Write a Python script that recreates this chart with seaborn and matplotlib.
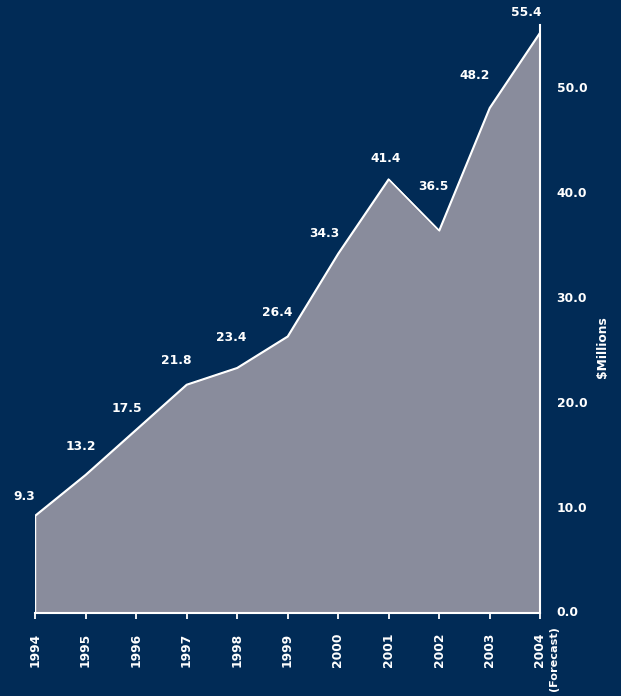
import matplotlib
matplotlib.use("Agg")
import matplotlib.pyplot as plt
import seaborn as sns
import pandas as pd

# Annual revenue, $ millions (2004 is a forecast)
years = [1994, 1995, 1996, 1997, 1998, 1999, 2000, 2001, 2002, 2003, 2004]
revenue = [9.3, 13.2, 17.5, 21.8, 23.4, 26.4, 34.3, 41.4, 36.5, 48.2, 55.4]
year_labels = ["1994", "1995", "1996", "1997", "1998", "1999", "2000",
               "2001", "2002", "2003", "2004"]
y_ticks = [0, 10, 20, 30, 40, 50]

df = pd.DataFrame({"year": years, "revenue": revenue})

NAVY = "#012b56"
FILL = "#898c9c"
FONT = "DejaVu Sans"
FS = 8.8

sns.set_theme(style="white")
plt.rcParams["font.family"] = [FONT]
plt.rcParams["font.weight"] = "bold"

fig = plt.figure(figsize=(6.21, 6.96), dpi=100, facecolor=NAVY)
ax = fig.add_axes([35 / 621, 83 / 696, 505 / 621, 588 / 696], facecolor=NAVY)

ax.fill_between(df["year"], df["revenue"], 0, color=FILL,
                edgecolor="white", linewidth=1.0, zorder=2)
sns.lineplot(data=df, x="year", y="revenue", color="white",
             linewidth=1.1, ax=ax, zorder=3)

# value labels placed just above each point (offsets in pixels)
label_dx = [-11, -5, -9, -10, -6, -10, -14, -3, -6, -15, -14]
label_dy = [19, 28, 21, 24, 30, 24, 20, 21, 44, 32, 20]
for x, y, dx, dy in zip(years, revenue, label_dx, label_dy):
    ax.annotate(f"{y:.1f}", xy=(x, y), xytext=(dx * 0.72, dy * 0.72),
                textcoords="offset points", ha="center", va="center",
                color="white", fontsize=FS, fontweight="bold",
                annotation_clip=False)

ax.set_xlim(1994, 2004)
ax.set_ylim(0, 56.1)

for side in ["top", "left"]:
    ax.spines[side].set_visible(False)
for side in ["bottom", "right"]:
    ax.spines[side].set_color("white")
    ax.spines[side].set_linewidth(1.5)
    ax.spines[side].set_zorder(4)

ax.set_xticks(years)
ax.set_xticklabels(year_labels, rotation=90, fontsize=FS, fontweight="bold",
                   color="white")
ax.tick_params(axis="x", direction="out", length=4, width=1.3,
               colors="white", pad=10, bottom=True)

ax.yaxis.tick_right()
ax.set_yticks(y_ticks)
ax.set_yticklabels([f"{v:.1f}" for v in y_ticks], fontsize=FS,
                   fontweight="bold", color="white")
ax.tick_params(axis="y", direction="in", length=7, width=1.3,
               colors="white", pad=12, right=True, left=False)
for t in ax.get_yticklabels():
    t.set_verticalalignment("center")

ax.set_xlabel("")
ax.set_ylabel("")
ax.grid(False)

# forecast note under the last year
ax.annotate("(Forecast)", xy=(2004, 0), xytext=(10, -9.5),
            textcoords="offset points", rotation=90, ha="center", va="top",
            color="white", fontsize=8.1, fontweight="bold",
            annotation_clip=False)

fig.text(602 / 621, 1 - 347 / 696, "$Millions", rotation=90, ha="center",
         va="center", color="white", fontsize=FS, fontweight="bold")

fig.savefig("out.png", dpi=100, facecolor=NAVY)
